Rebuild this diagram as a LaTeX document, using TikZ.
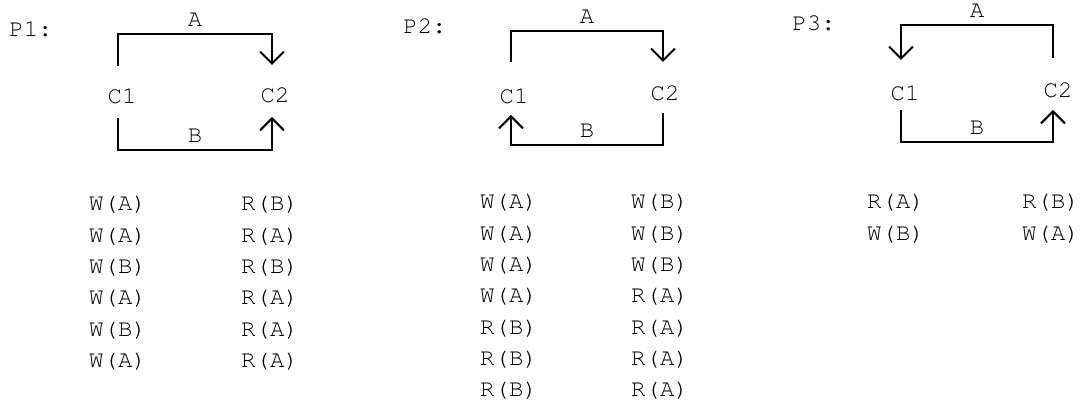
\documentclass[tikz,border=0pt]{standalone}
\usepackage[T1]{fontenc}
\usepackage{courier}
\usepackage{tikz}
\usetikzlibrary{arrows.meta,positioning}

\begin{document}
\begin{tikzpicture}[
            x=0.5pt, y=-0.5pt,
            font=\ttfamily\fontsize{12}{14}\selectfont,
            node distance=3.25pt,
            txt/.style={
                    inner sep=0pt,
                    text height=9pt,
                    text depth=3pt
                },
            cnode/.style={txt},
            opnode/.style={txt},
            lbl/.style={txt, above},
            wire/.style={line width=1pt},
            arrow/.style={wire, -{Straight Barb[length=6pt,width=12pt]}}
        ]
        \useasboundingbox (0,0) rectangle (1089,400);

        % P1
        \node[txt] (p1) at (31,31) {P1:};
        \node[cnode] (p1c1) at (122,98) {C1};
        \node[cnode] (p1c2) at (275,97) {C2};
        \draw[arrow]
        ([xshift=-2pt,yshift=16pt]p1c1.center) -- ++(0pt,16pt)
        -| node[lbl, pos=0.25] {A} ([xshift=-1.5pt,yshift=16pt]p1c2.center);
        \draw[arrow]
        ([xshift=-2pt,yshift=-10pt]p1c1.center) -- ++(0pt,-16pt)
        -| node[lbl, pos=0.25] {B} ([xshift=-1.5pt,yshift=-10pt]p1c2.center);

        \node[opnode] (p1l1) at (118,205) {W(A)};
        \node[opnode, below=of p1l1] (p1l2) {W(A)};
        \node[opnode, below=of p1l2] (p1l3) {W(B)};
        \node[opnode, below=of p1l3] (p1l4) {W(A)};
        \node[opnode, below=of p1l4] (p1l5) {W(B)};
        \node[opnode, below=of p1l5] (p1l6) {W(A)};
        \node[opnode] (p1r1) at (270,205) {R(B)};
        \node[opnode, below=of p1r1] (p1r2) {R(A)};
        \node[opnode, below=of p1r2] (p1r3) {R(B)};
        \node[opnode, below=of p1r3] (p1r4) {R(A)};
        \node[opnode, below=of p1r4] (p1r5) {R(A)};
        \node[opnode, below=of p1r5] (p1r6) {R(A)};

        % P2
        \node[txt] (p2) at (425,28) {P2:};
        \node[cnode] (p2c1) at (514,98) {C1};
        \node[cnode] (p2c2) at (665,95) {C2};
        \draw[arrow]
        ([xshift=-1.5pt,yshift=18pt]p2c1.center) -- ++(0pt,15.5pt)
        -| node[lbl, pos=0.25] {A} ([xshift=-1pt,yshift=16.5pt]p2c2.center);
        \draw[arrow]
        ([xshift=-1pt,yshift=-9pt]p2c2.center) -- ++(0pt,-16pt)
        -| node[lbl, pos=0.25] {B} ([xshift=-1.5pt,yshift=-8.5pt]p2c1.center);

        \node[opnode] (p2l1) at (509,203) {W(A)};
        \node[opnode, below=of p2l1] (p2l2) {W(A)};
        \node[opnode, below=of p2l2] (p2l3) {W(A)};
        \node[opnode, below=of p2l3] (p2l4) {W(A)};
        \node[opnode, below=of p2l4] (p2l5) {R(B)};
        \node[opnode, below=of p2l5] (p2l6) {R(B)};
        \node[opnode, below=of p2l6] (p2l7) {R(B)};
        \node[opnode] (p2r1) at (660,203) {W(B)};
        \node[opnode, below=of p2r1] (p2r2) {W(B)};
        \node[opnode, below=of p2r2] (p2r3) {W(B)};
        \node[opnode, below=of p2r3] (p2r4) {R(A)};
        \node[opnode, below=of p2r4] (p2r5) {R(A)};
        \node[opnode, below=of p2r5] (p2r6) {R(A)};
        \node[opnode, below=of p2r6] (p2r7) {R(A)};

        % P3
        \node[txt] (p3) at (814,25) {P3:};
        \node[cnode] (p3c1) at (905,95) {C1};
        \node[cnode] (p3c2) at (1058,92) {C2};
        \draw[arrow]
        ([xshift=-2.5pt,yshift=17pt]p3c2.center) -- ++(0pt,16.5pt)
        -| node[lbl, pos=0.25] {A} ([xshift=-2pt,yshift=17.5pt]p3c1.center);
        \draw[arrow]
        ([xshift=-2pt,yshift=-7.5pt]p3c1.center) -- ++(0pt,-16pt)
        -| node[lbl, pos=0.25] {B} ([xshift=-2.5pt,yshift=-9pt]p3c2.center);

        \node[opnode] (p3l1) at (896,203) {R(A)};
        \node[opnode, below=of p3l1] (p3l2) {W(B)};
        \node[opnode] (p3r1) at (1051,203) {R(B)};
        \node[opnode, below=of p3r1] (p3r2) {W(A)};

    \end{tikzpicture}
\end{document}
